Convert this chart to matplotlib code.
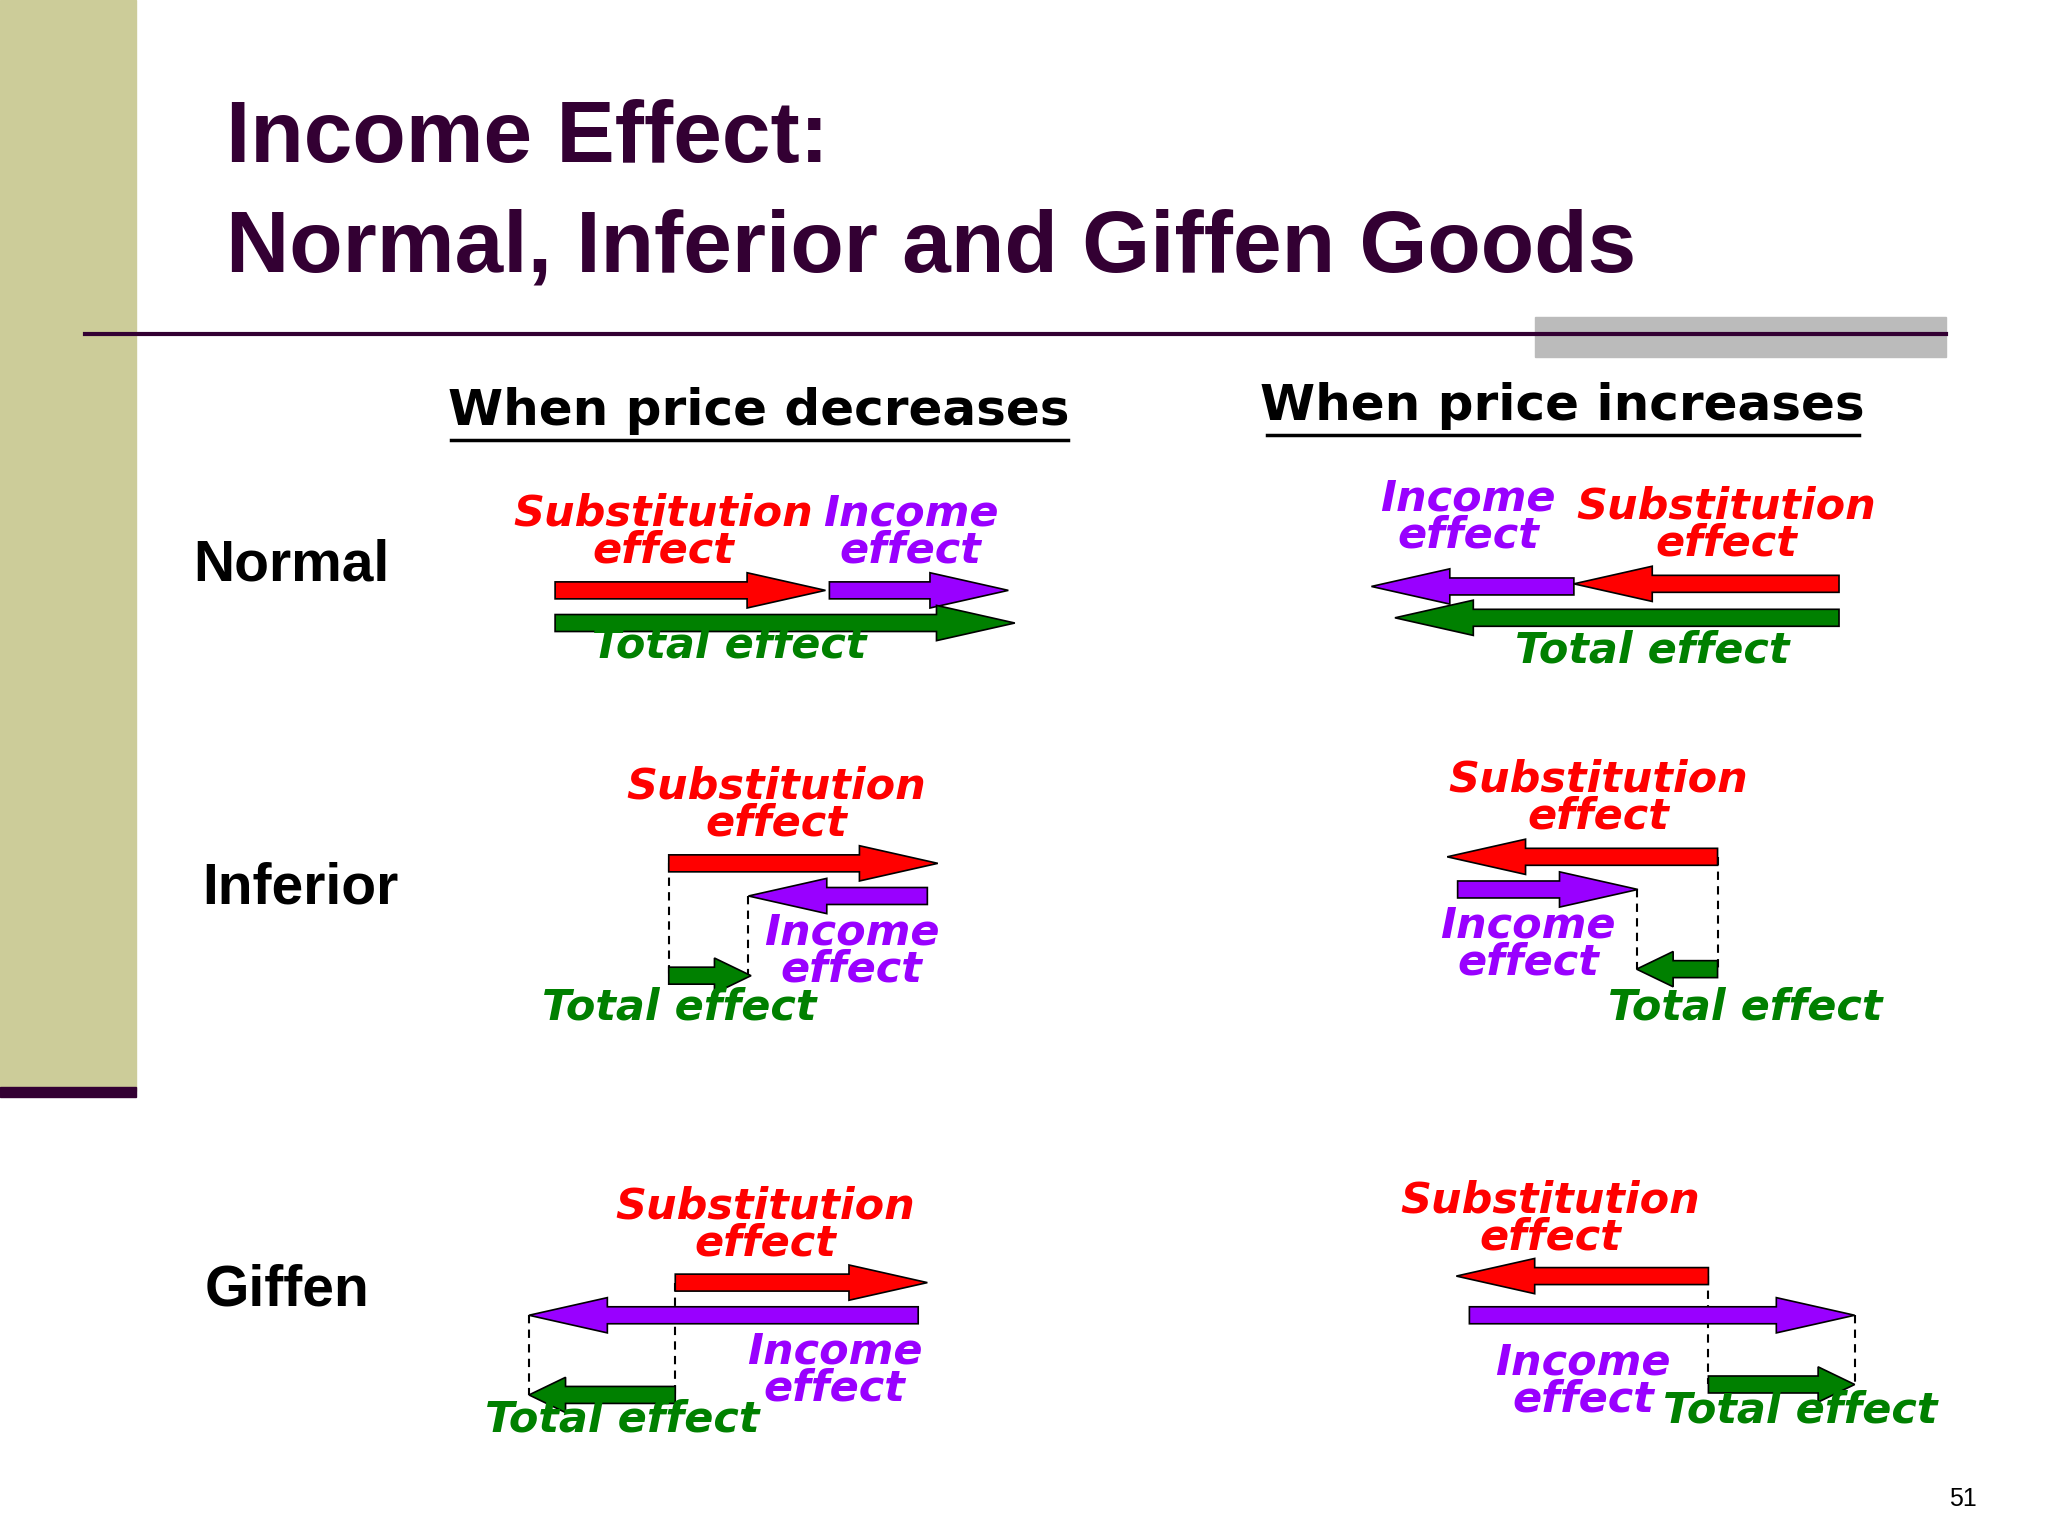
import matplotlib.pyplot as plt
from matplotlib.patches import FancyArrow, Rectangle

# ── data: coordinates in slide pixels (1568 x 1176 canvas) ──────────────────
title_lines = ["Income Effect:", "Normal, Inferior and Giffen Goods"]
headers = ["When price decreases", "When price increases"]
row_names = ["Normal", "Inferior", "Giffen"]

RED, PURPLE, GREEN = "#FF0000", "#9900FF", "#008000"
colors = {"sub": RED, "inc": PURPLE, "tot": GREEN}
texts = {"sub": "Substitution\neffect", "inc": "Income\neffect", "tot": "Total effect"}

# arrows: (kind, x_start, x_end, y)
arrows = [
    ("sub", 425, 632, 452), ("inc", 635, 772, 452), ("tot", 425, 777, 477),
    ("inc", 1205, 1050, 449), ("sub", 1408, 1205, 447), ("tot", 1408, 1068, 473),
    ("sub", 512, 718, 661), ("inc", 710, 573, 686), ("tot", 512, 575, 747),
    ("sub", 1315, 1108, 656), ("inc", 1116, 1254, 681), ("tot", 1315, 1253, 742),
    ("sub", 517, 710, 982), ("inc", 703, 405, 1007), ("tot", 517, 405, 1068),
    ("sub", 1308, 1115, 977), ("inc", 1125, 1420, 1007), ("tot", 1308, 1420, 1060),
]
# dashed guides: (x, y_top, y_bottom)
guides = [
    (512, 661, 747), (573, 686, 747),
    (1315, 656, 742), (1253, 681, 742),
    (405, 1007, 1068), (517, 982, 1068),
    (1308, 977, 1060), (1420, 1007, 1060),
]
# labels: (kind, x_center, y_center)
labels = [
    ("sub", 508, 407), ("inc", 697, 407), ("tot", 558, 494),
    ("inc", 1124, 396), ("sub", 1322, 402), ("tot", 1265, 498),
    ("sub", 594, 616), ("inc", 652, 728), ("tot", 520, 771),
    ("sub", 1224, 611), ("inc", 1170, 723), ("tot", 1336, 771),
    ("sub", 586, 938), ("inc", 639, 1049), ("tot", 476, 1087),
    ("sub", 1187, 933), ("inc", 1212, 1057), ("tot", 1378, 1080),
]

DARK = "#330033"
W, H = 1568, 1176

fig = plt.figure(figsize=(20.48, 15.36), dpi=100)
ax = fig.add_axes([0, 0, 1, 1])
ax.set_xlim(0, W)
ax.set_ylim(H, 0)
ax.axis("off")

# slide decoration
ax.add_patch(Rectangle((0, 0), 104, 835, color="#CCCC99", zorder=0))
ax.add_patch(Rectangle((0, 832), 104, 8, color=DARK, zorder=1))
ax.add_patch(Rectangle((1175, 243), 315, 30, color="#BBBBBB", zorder=0))
ax.plot([65, 1490], [256, 256], color=DARK, lw=3, zorder=1)

for i, line in enumerate(title_lines):
    ax.text(173, 107 + i * 84, line, fontsize=63, fontweight="bold",
            family="Liberation Sans", color=DARK, va="center", ha="left")

for (x, y, x0, x1), h in zip([(581, 315, 345, 818), (1196, 311, 970, 1423)], headers):
    ax.text(x, y, h, fontsize=36, fontweight="bold", family="DejaVu Sans",
            ha="center", va="center", color="black")
    ax.plot([x0, x1], [y + 22, y + 22], color="black", lw=2.5)

for name, (x, y) in zip(row_names, [(223, 433), (230, 680), (220, 988)]):
    ax.text(x, y, name, fontsize=41, fontweight="bold", family="Liberation Sans",
            ha="center", va="center")

for x, y0, y1 in guides:
    ax.plot([x, x], [y0, y1], color="black", lw=1.5, ls=(0, (4, 3)), zorder=1)

for kind, xs, xe, y in arrows:
    length = abs(xe - xs)
    head = 60 if length > 120 else 28
    ax.add_patch(FancyArrow(xs, y, xe - xs, 0, width=13, head_width=27,
                            head_length=head, length_includes_head=True,
                            facecolor=colors[kind], edgecolor="black", lw=1.2, zorder=2))

for kind, x, y in labels:
    ax.text(x, y, texts[kind], color=colors[kind], fontsize=31, fontweight="bold",
            style="italic", family="DejaVu Sans", ha="center", va="center",
            linespacing=0.85, zorder=3)

ax.text(1503, 1148, "51", fontsize=18, family="Liberation Sans", ha="center", va="center")

fig.savefig("out.png", dpi=100)
